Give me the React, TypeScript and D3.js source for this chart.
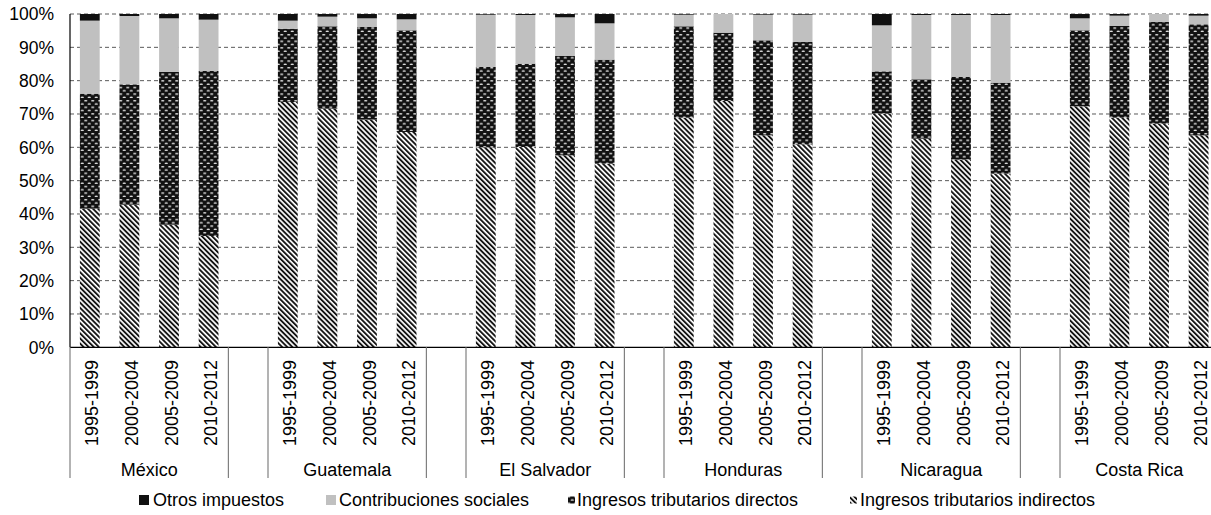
import React from "react";
import * as d3 from "d3";

// Tax revenue structure by country and period (shares of total, %)
const periods = ["1995-1999", "2000-2004", "2005-2009", "2010-2012"];
const countries = ["México", "Guatemala", "El Salvador", "Honduras", "Nicaragua", "Costa Rica"];

// values listed country by country, four periods each
const indirectos = [
  41.6, 42.8, 36.8, 33.4,
  73.6, 71.6, 68.3, 64.6,
  60.0, 60.1, 57.6, 55.1,
  68.9, 73.9, 63.6, 60.9,
  70.1, 62.6, 56.3, 52.1,
  72.3, 68.9, 67.1, 63.6,
];
const directos = [
  34.5, 36.1, 45.8, 49.5,
  22.0, 24.7, 27.8, 30.5,
  24.1, 25.0, 29.8, 31.2,
  27.4, 20.5, 28.5, 30.7,
  12.7, 17.8, 24.8, 27.3,
  22.8, 27.5, 30.5, 33.3,
];
const contribuciones = [
  21.9, 20.5, 16.1, 15.4,
  2.4, 2.9, 2.6, 3.3,
  15.7, 14.6, 11.6, 10.9,
  3.5, 5.6, 7.7, 8.2,
  13.8, 19.3, 18.6, 20.3,
  3.6, 3.1, 2.4, 2.6,
];
const otros = [
  2.0, 0.6, 1.3, 1.7,
  2.0, 0.8, 1.3, 1.6,
  0.2, 0.3, 1.0, 2.8,
  0.2, 0.0, 0.2, 0.2,
  3.4, 0.3, 0.3, 0.3,
  1.3, 0.5, 0.0, 0.5,
];

const yTicks = [0, 10, 20, 30, 40, 50, 60, 70, 80, 90, 100];

const seriesFills = ["url(#pat-ind)", "url(#pat-dir)", "#c0c0c0", "#111111"];

const W = 1211;
const H = 515;
const left = 70;
const right = 1218.4;
const top = 14;
const bottom = 347.3;
const FONT = "'Liberation Sans', Arial, sans-serif";

type Row = { key: string; country: string; period: string; vals: number[] };

export default function App() {
  // slot sequence: a blank slot separates consecutive countries
  const slots: string[] = [];
  const rows: Row[] = [];
  countries.forEach((c, ci) => {
    if (ci > 0) slots.push(`gap-${ci}`);
    periods.forEach((p, pi) => {
      const i = ci * periods.length + pi;
      const key = `${c}|${p}`;
      slots.push(key);
      rows.push({
        key,
        country: c,
        period: p,
        vals: [indirectos[i], directos[i], contribuciones[i], otros[i]],
      });
    });
  });

  const x = d3
    .scaleBand<string>()
    .domain(slots)
    .range([left, right])
    .paddingInner(0.5)
    .paddingOuter(0.25);
  const step = x.step();
  const bw = x.bandwidth();
  const slotStart = (k: string) => (x(k) as number) - (step - bw) / 2;

  const y = d3.scaleLinear().domain([0, 100]).range([bottom, top]);

  const stack = d3
    .stack<Row>()
    .keys(["0", "1", "2", "3"])
    .value((d, k) => d.vals[+k]);
  const layers = stack(rows);

  // group separators on the category axis
  const seps: number[] = [left];
  countries.forEach((c) => {
    const first = `${c}|${periods[0]}`;
    const last = `${c}|${periods[periods.length - 1]}`;
    const s = slotStart(first);
    const e = slotStart(last) + step;
    if (!seps.some((v) => Math.abs(v - s) < 0.5)) seps.push(s);
    seps.push(e);
  });

  const legendItems = [
    { name: "Otros impuestos", fill: "#111111", sx: 139, size: 10, tx: 153 },
    { name: "Contribuciones sociales", fill: "#c0c0c0", sx: 326, size: 10, tx: 339 },
    { name: "Ingresos tributarios directos", fill: "url(#pat-dir)", sx: 568, size: 7, tx: 577 },
    { name: "Ingresos tributarios indirectos", fill: "url(#pat-ind)", sx: 850, size: 7, tx: 860 },
  ];

  return (
    <svg
      width={W}
      height={H}
      style={{ position: "absolute", left: 0, top: 0, background: "#fff" }}
      fontFamily={FONT}
    >
      <defs>
        <pattern id="pat-ind" width={3.6} height={3.6} patternUnits="userSpaceOnUse" patternTransform="rotate(-45)">
          <rect width={3.6} height={3.6} fill="#ffffff" />
          <rect width={1.9} height={3.6} fill="#151515" />
        </pattern>
        <pattern id="pat-dir" width={7} height={6.6} patternUnits="userSpaceOnUse">
          <rect width={7} height={6.6} fill="#111111" />
          <ellipse cx={1.75} cy={1.65} rx={1.7} ry={0.8} fill="#e6e6e6" />
          <ellipse cx={5.25} cy={4.95} rx={1.7} ry={0.8} fill="#e6e6e6" />
        </pattern>
      </defs>

      {/* horizontal gridlines */}
      {yTicks
        .filter((t) => t > 0)
        .map((t) => (
          <line
            key={`g${t}`}
            x1={left}
            x2={W}
            y1={y(t)}
            y2={y(t)}
            stroke="#5a5a5a"
            strokeWidth={1}
            strokeDasharray="4,3"
          />
        ))}

      {/* stacked bars */}
      {layers.map((layer, li) =>
        layer.map((d) => {
          const h = y(d[0]) - y(d[1]);
          if (h <= 0) return null;
          return (
            <rect
              key={`${li}-${d.data.key}`}
              x={x(d.data.key)}
              y={y(d[1])}
              width={bw}
              height={h}
              fill={seriesFills[li]}
            />
          );
        })
      )}

      {/* axes */}
      <line x1={left} x2={left} y1={top} y2={bottom} stroke="#000" strokeWidth={1.2} />
      <line x1={left} x2={W} y1={bottom} y2={bottom} stroke="#000" strokeWidth={1.2} />

      {/* y tick labels */}
      {yTicks.map((t) => (
        <text
          key={`yl${t}`}
          x={54}
          y={y(t)}
          dy="0.36em"
          textAnchor="end"
          fontSize={17.5}
          fill="#000"
        >
          {t}%
        </text>
      ))}

      {/* category separators */}
      {seps.map((s, i) => (
        <line key={`s${i}`} x1={s} x2={s} y1={bottom} y2={478} stroke="#808080" strokeWidth={1.2} />
      ))}

      {/* period labels */}
      {rows.map((r) => {
        const cx = (x(r.key) as number) + bw / 2;
        return (
          <text
            key={`pl${r.key}`}
            transform={`translate(${cx + 8.5},403) rotate(-90)`}
            textAnchor="middle"
            fontSize={18}
            fill="#000"
          >
            {r.period}
          </text>
        );
      })}

      {/* country labels */}
      {countries.map((c) => {
        const s = slotStart(`${c}|${periods[0]}`);
        const e = slotStart(`${c}|${periods[periods.length - 1]}`) + step;
        return (
          <text key={`c${c}`} x={(s + e) / 2} y={476} textAnchor="middle" fontSize={18} fill="#000">
            {c}
          </text>
        );
      })}

      {/* legend */}
      {legendItems.map((it) => (
        <g key={it.name}>
          <rect x={it.sx} y={500 - it.size / 2} width={it.size} height={it.size} fill={it.fill} />
          <text x={it.tx} y={506} fontSize={18} fill="#000">
            {it.name}
          </text>
        </g>
      ))}
    </svg>
  );
}
